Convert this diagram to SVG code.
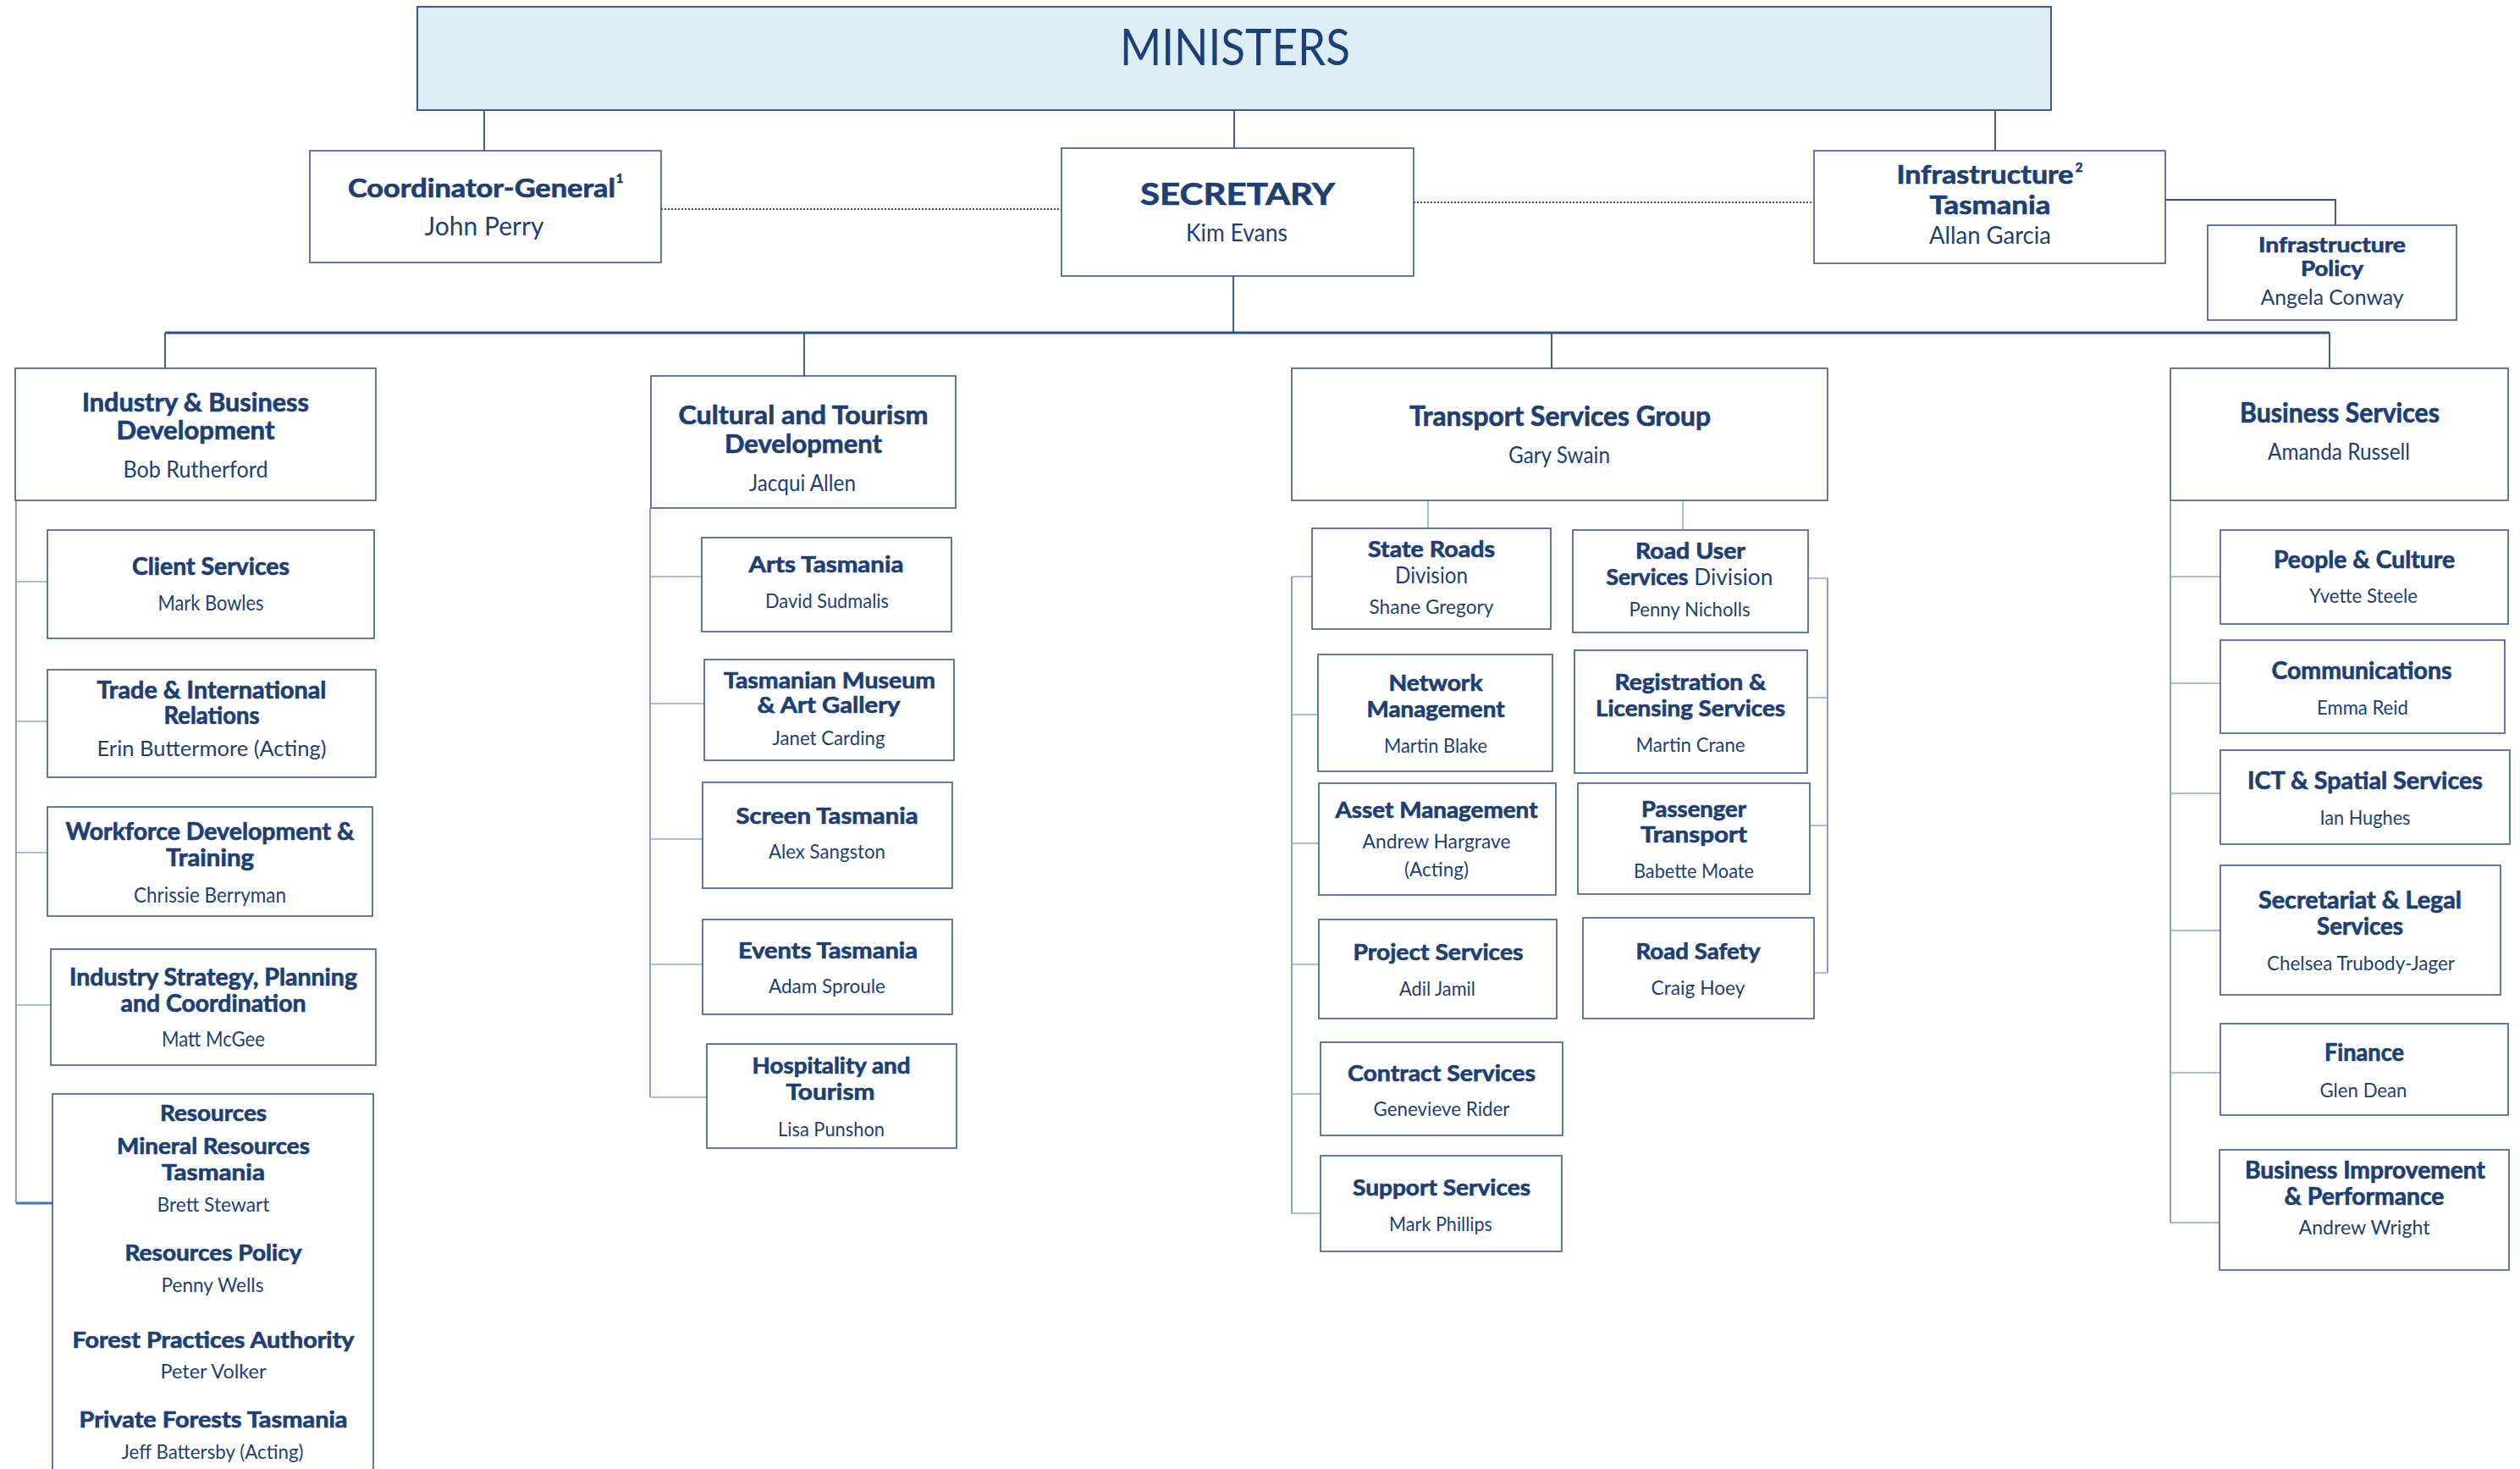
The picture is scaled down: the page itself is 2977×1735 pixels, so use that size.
<svg xmlns="http://www.w3.org/2000/svg" width="2977" height="1735" viewBox="0 0 2977 1735">
<style>
.box{fill:#ffffff;stroke:#3a5a92;stroke-width:1.6}
.min{fill:#dbeef4;stroke:#3a5a92;stroke-width:2}
text{font-family:Lato,"Liberation Sans",sans-serif;fill:#1e3f74;text-anchor:middle}
.b{font-weight:700;stroke:#1e3f74;stroke-width:0.7}
.r{font-weight:400}
.ln{stroke:#2f4f82;stroke-width:1.8;fill:none}
.bus{stroke:#2f4f82;stroke-width:3;fill:none}
.sub{stroke:#5f80b8;stroke-width:1.5;fill:none}
.subl{stroke:#8ea8d2;stroke-width:1.5;fill:none}
.dot{stroke:#2f4f82;stroke-width:2;stroke-dasharray:2 2;fill:none}
</style>
<rect width="2977" height="1735" fill="#ffffff"/>
<g id="connectors">
  <path class="ln" d="M572 130V178M1458 130V175M2357 130V178M1457 326V393"/>
  <path class="dot" d="M781 247H1254M1670 239H2143"/>
  <path class="bus" d="M195 393H2752"/>
  <path class="ln" d="M195 393V435M950 393V444M1833 393V435M2752 393V435"/>
  <path class="ln" d="M2558 236H2759V266"/>
  <path class="sub" d="M19 591V1421"/>
  <path class="subl" d="M19 687H56M19 852H56M19 1007H56M19 1187H60"/>
  <path stroke="#4472c4" stroke-width="3" fill="none" d="M19 1421H62"/>
  <path class="sub" d="M768 600V1296"/>
  <path class="subl" d="M768 681H829M768 831H832M768 991H830M768 1139H830M768 1296H835"/>
  <path class="subl" d="M1687 591V624M1988 591V626"/>
  <path class="sub" d="M1526 681V1433"/>
  <path class="subl" d="M1526 681H1550M1526 844H1557M1526 996H1558M1526 1139H1558M1526 1292H1560M1526 1433H1560"/>
  <path class="sub" d="M2159 683V1149"/>
  <path class="subl" d="M2136 683H2159M2135 824H2159M2138 975H2159M2143 1149H2159"/>
  <path class="sub" d="M2564 591V1444"/>
  <path class="subl" d="M2564 681H2623M2564 807H2623M2564 937H2623M2564 1099H2623M2564 1267H2623M2564 1444H2622"/>
</g>
<g id="ministers">
  <rect class="min" x="493" y="8" width="1930" height="122"/>
  <text class="r" x="1459" y="77" font-size="60" textLength="272" lengthAdjust="spacingAndGlyphs">MINISTERS</text>
</g>
<g id="coordinator-general">
  <rect class="box" x="366" y="178" width="415" height="132"/>
  <text class="b" x="569" y="233" font-size="31" textLength="316" lengthAdjust="spacingAndGlyphs">Coordinator-General</text>
  <text class="b" x="732" y="216" font-size="15">1</text>
  <text class="r" x="572" y="278" font-size="31" textLength="141" lengthAdjust="spacingAndGlyphs">John Perry</text>
</g>
<g id="secretary">
  <rect class="box" x="1254" y="175" width="416" height="151"/>
  <text class="b" x="1462" y="242" font-size="36" textLength="230" lengthAdjust="spacingAndGlyphs">SECRETARY</text>
  <text class="r" x="1461" y="285" font-size="28" textLength="120" lengthAdjust="spacingAndGlyphs">Kim Evans</text>
</g>
<g id="infrastructure-tasmania">
  <rect class="box" x="2143" y="178" width="415" height="133"/>
  <text class="b" x="2345" y="217" font-size="31" textLength="209" lengthAdjust="spacingAndGlyphs">Infrastructure</text>
  <text class="b" x="2456" y="203" font-size="15">2</text>
  <text class="b" x="2351" y="253" font-size="31" textLength="143" lengthAdjust="spacingAndGlyphs">Tasmania</text>
  <text class="r" x="2351" y="288" font-size="29" textLength="144" lengthAdjust="spacingAndGlyphs">Allan Garcia</text>
</g>
<g id="infrastructure-policy">
  <rect class="box" x="2608" y="266" width="294" height="112"/>
  <text class="b" x="2755" y="298" font-size="25" textLength="174" lengthAdjust="spacingAndGlyphs">Infrastructure</text>
  <text class="b" x="2755" y="326" font-size="25" textLength="74" lengthAdjust="spacingAndGlyphs">Policy</text>
  <text class="r" x="2755" y="360" font-size="25" textLength="169" lengthAdjust="spacingAndGlyphs">Angela Conway</text>
</g>

<g id="industry-business-development">
  <rect class="box" x="18" y="435" width="426" height="156"/>
  <text class="b" x="231" y="486" font-size="30" textLength="268" lengthAdjust="spacingAndGlyphs">Industry &amp; Business</text>
  <text class="b" x="231" y="519" font-size="30" textLength="187" lengthAdjust="spacingAndGlyphs">Development</text>
  <text class="r" x="231" y="564" font-size="27" textLength="171" lengthAdjust="spacingAndGlyphs">Bob Rutherford</text>
</g>
<g id="client-services">
  <rect class="box" x="56" y="626" width="386" height="128"/>
  <text class="b" x="249" y="679" font-size="28" textLength="186" lengthAdjust="spacingAndGlyphs">Client Services</text>
  <text class="r" x="249" y="721" font-size="25" textLength="125" lengthAdjust="spacingAndGlyphs">Mark Bowles</text>
</g>
<g id="trade-international">
  <rect class="box" x="56" y="791" width="388" height="127"/>
  <text class="b" x="250" y="825" font-size="28" textLength="271" lengthAdjust="spacingAndGlyphs">Trade &amp; International</text>
  <text class="b" x="250" y="855" font-size="28" textLength="113" lengthAdjust="spacingAndGlyphs">Relations</text>
  <text class="r" x="250" y="893" font-size="25" textLength="271" lengthAdjust="spacingAndGlyphs">Erin Buttermore (Acting)</text>
</g>
<g id="workforce-development">
  <rect class="box" x="56" y="953" width="384" height="129"/>
  <text class="b" x="248" y="992" font-size="28" textLength="341" lengthAdjust="spacingAndGlyphs">Workforce Development &amp;</text>
  <text class="b" x="248" y="1023" font-size="28" textLength="104" lengthAdjust="spacingAndGlyphs">Training</text>
  <text class="r" x="248" y="1066" font-size="25" textLength="180" lengthAdjust="spacingAndGlyphs">Chrissie Berryman</text>
</g>
<g id="industry-strategy">
  <rect class="box" x="60" y="1121" width="384" height="137"/>
  <text class="b" x="252" y="1164" font-size="28" textLength="340" lengthAdjust="spacingAndGlyphs">Industry Strategy, Planning</text>
  <text class="b" x="252" y="1195" font-size="28" textLength="219" lengthAdjust="spacingAndGlyphs">and Coordination</text>
  <text class="r" x="252" y="1236" font-size="25" textLength="122" lengthAdjust="spacingAndGlyphs">Matt McGee</text>
</g>
<g id="resources">
  <rect class="box" x="62" y="1292" width="379" height="460"/>
  <text class="b" x="252" y="1324" font-size="26" textLength="126" lengthAdjust="spacingAndGlyphs">Resources</text>
  <text class="b" x="252" y="1363" font-size="26" textLength="228" lengthAdjust="spacingAndGlyphs">Mineral Resources</text>
  <text class="b" x="252" y="1394" font-size="26" textLength="122" lengthAdjust="spacingAndGlyphs">Tasmania</text>
  <text class="r" x="252" y="1431" font-size="24" textLength="133" lengthAdjust="spacingAndGlyphs">Brett Stewart</text>
  <text class="b" x="252" y="1489" font-size="26" textLength="209" lengthAdjust="spacingAndGlyphs">Resources Policy</text>
  <text class="r" x="251" y="1526" font-size="24" textLength="121" lengthAdjust="spacingAndGlyphs">Penny Wells</text>
  <text class="b" x="252" y="1592" font-size="26" textLength="333" lengthAdjust="spacingAndGlyphs">Forest Practices Authority</text>
  <text class="r" x="252" y="1628" font-size="24" textLength="125" lengthAdjust="spacingAndGlyphs">Peter Volker</text>
  <text class="b" x="252" y="1686" font-size="26" textLength="317" lengthAdjust="spacingAndGlyphs">Private Forests Tasmania</text>
  <text class="r" x="251" y="1723" font-size="24" textLength="215" lengthAdjust="spacingAndGlyphs">Jeff Battersby (Acting)</text>
</g>

<g id="cultural-tourism-development">
  <rect class="box" x="769" y="444" width="360" height="156"/>
  <text class="b" x="949" y="501" font-size="30" textLength="295" lengthAdjust="spacingAndGlyphs">Cultural and Tourism</text>
  <text class="b" x="949" y="535" font-size="30" textLength="186" lengthAdjust="spacingAndGlyphs">Development</text>
  <text class="r" x="948" y="580" font-size="26" textLength="126" lengthAdjust="spacingAndGlyphs">Jacqui Allen</text>
</g>
<g id="arts-tasmania">
  <rect class="box" x="829" y="635" width="295" height="111"/>
  <text class="b" x="976" y="676" font-size="27" textLength="183" lengthAdjust="spacingAndGlyphs">Arts Tasmania</text>
  <text class="r" x="977" y="718" font-size="24" textLength="146" lengthAdjust="spacingAndGlyphs">David Sudmalis</text>
</g>
<g id="tmag">
  <rect class="box" x="832" y="779" width="295" height="119"/>
  <text class="b" x="980" y="813" font-size="27" textLength="250" lengthAdjust="spacingAndGlyphs">Tasmanian Museum</text>
  <text class="b" x="979" y="842" font-size="27" textLength="169" lengthAdjust="spacingAndGlyphs">&amp; Art Gallery</text>
  <text class="r" x="979" y="880" font-size="24" textLength="133" lengthAdjust="spacingAndGlyphs">Janet Carding</text>
</g>
<g id="screen-tasmania">
  <rect class="box" x="830" y="924" width="295" height="125"/>
  <text class="b" x="977" y="973" font-size="27" textLength="215" lengthAdjust="spacingAndGlyphs">Screen Tasmania</text>
  <text class="r" x="977" y="1014" font-size="24" textLength="138" lengthAdjust="spacingAndGlyphs">Alex Sangston</text>
</g>
<g id="events-tasmania">
  <rect class="box" x="830" y="1086" width="295" height="112"/>
  <text class="b" x="978" y="1132" font-size="27" textLength="212" lengthAdjust="spacingAndGlyphs">Events Tasmania</text>
  <text class="r" x="977" y="1173" font-size="24" textLength="138" lengthAdjust="spacingAndGlyphs">Adam Sproule</text>
</g>
<g id="hospitality-tourism">
  <rect class="box" x="835" y="1233" width="295" height="123"/>
  <text class="b" x="982" y="1268" font-size="27" textLength="187" lengthAdjust="spacingAndGlyphs">Hospitality and</text>
  <text class="b" x="981" y="1299" font-size="27" textLength="105" lengthAdjust="spacingAndGlyphs">Tourism</text>
  <text class="r" x="982" y="1342" font-size="24" textLength="126" lengthAdjust="spacingAndGlyphs">Lisa Punshon</text>
</g>

<g id="transport-services-group">
  <rect class="box" x="1526" y="435" width="633" height="156"/>
  <text class="b" x="1843" y="503" font-size="32" textLength="356" lengthAdjust="spacingAndGlyphs">Transport Services Group</text>
  <text class="r" x="1842" y="547" font-size="26" textLength="120" lengthAdjust="spacingAndGlyphs">Gary Swain</text>
</g>
<g id="state-roads">
  <rect class="box" x="1550" y="624" width="282" height="119"/>
  <text class="b" x="1691" y="658" font-size="27" textLength="150" lengthAdjust="spacingAndGlyphs">State Roads</text>
  <text class="r" x="1691" y="689" font-size="27" textLength="86" lengthAdjust="spacingAndGlyphs">Division</text>
  <text class="r" x="1691" y="725" font-size="24" textLength="147" lengthAdjust="spacingAndGlyphs">Shane Gregory</text>
</g>
<g id="network-management">
  <rect class="box" x="1557" y="773" width="277" height="138"/>
  <text class="b" x="1696" y="816" font-size="27" textLength="111" lengthAdjust="spacingAndGlyphs">Network</text>
  <text class="b" x="1696" y="847" font-size="27" textLength="163" lengthAdjust="spacingAndGlyphs">Management</text>
  <text class="r" x="1696" y="889" font-size="24" textLength="122" lengthAdjust="spacingAndGlyphs">Martin Blake</text>
</g>
<g id="asset-management">
  <rect class="box" x="1558" y="925" width="280" height="132"/>
  <text class="b" x="1697" y="966" font-size="27" textLength="239" lengthAdjust="spacingAndGlyphs">Asset Management</text>
  <text class="r" x="1697" y="1002" font-size="24" textLength="175" lengthAdjust="spacingAndGlyphs">Andrew Hargrave</text>
  <text class="r" x="1697" y="1035" font-size="24" textLength="76" lengthAdjust="spacingAndGlyphs">(Acting)</text>
</g>
<g id="project-services">
  <rect class="box" x="1558" y="1086" width="281" height="117"/>
  <text class="b" x="1699" y="1134" font-size="27" textLength="201" lengthAdjust="spacingAndGlyphs">Project Services</text>
  <text class="r" x="1698" y="1176" font-size="24" textLength="90" lengthAdjust="spacingAndGlyphs">Adil Jamil</text>
</g>
<g id="contract-services">
  <rect class="box" x="1560" y="1231" width="286" height="110"/>
  <text class="b" x="1703" y="1277" font-size="27" textLength="222" lengthAdjust="spacingAndGlyphs">Contract Services</text>
  <text class="r" x="1703" y="1318" font-size="24" textLength="161" lengthAdjust="spacingAndGlyphs">Genevieve Rider</text>
</g>
<g id="support-services">
  <rect class="box" x="1560" y="1365" width="285" height="113"/>
  <text class="b" x="1703" y="1412" font-size="27" textLength="210" lengthAdjust="spacingAndGlyphs">Support Services</text>
  <text class="r" x="1702" y="1454" font-size="24" textLength="122" lengthAdjust="spacingAndGlyphs">Mark Phillips</text>
</g>
<g id="road-user-services">
  <rect class="box" x="1858" y="626" width="278" height="121"/>
  <text class="b" x="1997" y="660" font-size="27" textLength="130" lengthAdjust="spacingAndGlyphs">Road User</text>
  <text x="1996" y="691" font-size="27" textLength="197" lengthAdjust="spacingAndGlyphs"><tspan class="b">Services</tspan><tspan class="r"> Division</tspan></text>
  <text class="r" x="1996" y="728" font-size="24" textLength="143" lengthAdjust="spacingAndGlyphs">Penny Nicholls</text>
</g>
<g id="registration-licensing">
  <rect class="box" x="1860" y="768" width="275" height="145"/>
  <text class="b" x="1997" y="815" font-size="27" textLength="179" lengthAdjust="spacingAndGlyphs">Registration &amp;</text>
  <text class="b" x="1997" y="846" font-size="27" textLength="224" lengthAdjust="spacingAndGlyphs">Licensing Services</text>
  <text class="r" x="1997" y="888" font-size="24" textLength="129" lengthAdjust="spacingAndGlyphs">Martin Crane</text>
</g>
<g id="passenger-transport">
  <rect class="box" x="1864" y="925" width="274" height="131"/>
  <text class="b" x="2001" y="965" font-size="27" textLength="124" lengthAdjust="spacingAndGlyphs">Passenger</text>
  <text class="b" x="2001" y="995" font-size="27" textLength="126" lengthAdjust="spacingAndGlyphs">Transport</text>
  <text class="r" x="2001" y="1037" font-size="24" textLength="142" lengthAdjust="spacingAndGlyphs">Babette Moate</text>
</g>
<g id="road-safety">
  <rect class="box" x="1870" y="1084" width="273" height="119"/>
  <text class="b" x="2006" y="1133" font-size="27" textLength="147" lengthAdjust="spacingAndGlyphs">Road Safety</text>
  <text class="r" x="2006" y="1175" font-size="24" textLength="111" lengthAdjust="spacingAndGlyphs">Craig Hoey</text>
</g>

<g id="business-services">
  <rect class="box" x="2564" y="435" width="399" height="156"/>
  <text class="b" x="2764" y="499" font-size="32" textLength="236" lengthAdjust="spacingAndGlyphs">Business Services</text>
  <text class="r" x="2763" y="543" font-size="26" textLength="168" lengthAdjust="spacingAndGlyphs">Amanda Russell</text>
</g>
<g id="people-culture">
  <rect class="box" x="2623" y="626" width="340" height="111"/>
  <text class="b" x="2793" y="671" font-size="28" textLength="214" lengthAdjust="spacingAndGlyphs">People &amp; Culture</text>
  <text class="r" x="2792" y="712" font-size="24" textLength="128" lengthAdjust="spacingAndGlyphs">Yvette Steele</text>
</g>
<g id="communications">
  <rect class="box" x="2623" y="756" width="336" height="110"/>
  <text class="b" x="2790" y="802" font-size="28" textLength="213" lengthAdjust="spacingAndGlyphs">Communications</text>
  <text class="r" x="2791" y="844" font-size="24" textLength="108" lengthAdjust="spacingAndGlyphs">Emma Reid</text>
</g>
<g id="ict-spatial-services">
  <rect class="box" x="2623" y="886" width="342" height="111"/>
  <text class="b" x="2794" y="932" font-size="28" textLength="278" lengthAdjust="spacingAndGlyphs">ICT &amp; Spatial Services</text>
  <text class="r" x="2794" y="974" font-size="24" textLength="107" lengthAdjust="spacingAndGlyphs">Ian Hughes</text>
</g>
<g id="secretariat-legal">
  <rect class="box" x="2623" y="1022" width="331" height="153"/>
  <text class="b" x="2788" y="1073" font-size="28" textLength="240" lengthAdjust="spacingAndGlyphs">Secretariat &amp; Legal</text>
  <text class="b" x="2788" y="1104" font-size="28" textLength="102" lengthAdjust="spacingAndGlyphs">Services</text>
  <text class="r" x="2789" y="1146" font-size="24" textLength="222" lengthAdjust="spacingAndGlyphs">Chelsea Trubody-Jager</text>
</g>
<g id="finance">
  <rect class="box" x="2623" y="1209" width="340" height="108"/>
  <text class="b" x="2793" y="1253" font-size="28" textLength="94" lengthAdjust="spacingAndGlyphs">Finance</text>
  <text class="r" x="2792" y="1296" font-size="24" textLength="103" lengthAdjust="spacingAndGlyphs">Glen Dean</text>
</g>
<g id="business-improvement">
  <rect class="box" x="2622" y="1358" width="342" height="142"/>
  <text class="b" x="2794" y="1392" font-size="28" textLength="284" lengthAdjust="spacingAndGlyphs">Business Improvement</text>
  <text class="b" x="2793" y="1423" font-size="28" textLength="189" lengthAdjust="spacingAndGlyphs">&amp; Performance</text>
  <text class="r" x="2793" y="1458" font-size="24" textLength="155" lengthAdjust="spacingAndGlyphs">Andrew Wright</text>
</g>
</svg>
